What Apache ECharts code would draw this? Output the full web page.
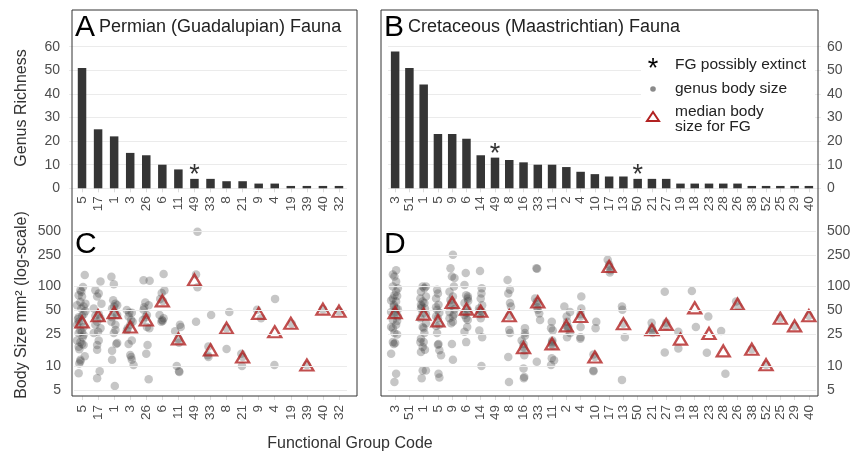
<!DOCTYPE html>
<html><head><meta charset="utf-8">
<script src="https://cdn.jsdelivr.net/npm/echarts@6/dist/echarts.min.js"></script>
<style>html,body{margin:0;padding:0;background:#fff}#c{width:857px;height:454px}</style>
</head><body><div id="c"></div>
<script>
// ---------- DATA ----------
const catsA = ['5','17','1','3','26','6','11','49','33','8','21','9','4','19','39','40','32'];
const richA = [51,25,22,15,14,10,8,4,4,3,3,2,2,1,1,1,1];
const extinctA = ['49'];
const catsB = ['3','51','1','5','9','6','14','49','8','16','33','11','2','4','10','17','13','50','21','27','19','18','23','28','26','38','52','25','29','40'];
const richB = [58,51,44,23,23,21,14,13,12,11,10,10,9,7,6,5,5,4,4,4,2,2,2,2,2,1,1,1,1,1];
const extinctB = ['49','50'];
const sizeTicks = [5,10,25,50,100,250,500];
const medianC = [36,43,47,31,38,66,22,121,16,30,13,46,27,34.5,10.3,52,49];
const medianD = [47,null,45,37,63,52,49,null,43,17,64,19,32,42,13,179,34,null,28.6,33.4,21.8,54,25.7,15.5,60,16.3,10.4,40,32,43];
// [group code, horizontal jitter (category units), body size mm^2]
const pointsC = [
['5',0.17,140],['5',0.06,99],['5',-0.10,90],['5',-0.21,78],['5',0,75],['5',0.21,61],['5',-0.31,58],['5',-0.04,53],['5',0.10,45],['5',-0.21,41],['5',0,36],['5',-0.31,33],['5',0.10,31],['5',-0.10,28],['5',-0.21,26],['5',0.10,24.5],['5',-0.31,21],['5',0,19],['5',-0.21,17.5],['5',0.17,13.3],['5',-0.10,12],['5',-0.17,10.8],['5',-0.21,8.1],['5',-0.04,86],['5',0.21,49],['5',-0.25,39],['5',0.04,23],['5',-0.17,16.3],['5',-0.1,64],['5',0.1,56],['5',-0.2,36],['5',0,27],['5',-0.1,20],['5',0.1,18.4],['5',-0.1,11.5],['5',0,43],
['17',0.15,116],['17',-0.17,90],['17',0.04,82],['17',-0.06,75],['17',0.21,61],['17',-0.27,53],['17',0.04,45],['17',-0.06,36],['17',-0.17,33],['17',0.15,30],['17',-0.27,26],['17',0.04,21],['17',-0.06,18.4],['17',-0.06,16],['17',0.1,8.6],['17',-0.06,7],['17',-0.17,43],['17',0.15,40],['17',0,27],
['1',-0.17,133],['1',-0.02,107],['1',-0.06,67.5],['1',0.08,61],['1',-0.13,53],['1',0.04,47],['1',0.19,44],['1',-0.17,36],['1',0.08,28.4],['1',-0.02,26],['1',0.19,19.5],['1',0.13,19],['1',-0.13,15.6],['1',-0.13,12],['1',0.04,5.6],['1',0,56],['1',0.08,33],['1',-0.13,41],['1',0.19,58],
['3',-0.21,50.6],['3',0.1,47],['3',-0.1,42],['3',0.15,36],['3',0,33],['3',-0.21,28],['3',0.1,21],['3',-0.1,19],['3',0,13.8],['3',0.06,13],['3',0.1,12],['3',0.21,10.3],['3',-0.06,47],['3',0.06,38],['3',-0.15,30],
['26',-0.17,120],['26',0.21,118],['26',-0.06,63],['26',0.15,58],['26',-0.17,51],['26',0.04,44],['26',-0.21,38],['26',0.04,31],['26',0.19,30],['26',0.08,18.4],['26',0,14.3],['26',0.15,6.8],['26',-0.13,55],['26',-0.04,41],
['6',0.08,144],['6',0.13,89],['6',-0.04,83],['6',-0.13,70],['6',0.04,66],['6',-0.17,44],['6',-0.02,38],['6',0.02,37],['6',-0.06,36],['6',0.08,40],
['11',0.1,33],['11',0.15,31],['11',-0.2,27.5],['11',0,22],['11',0.04,19.6],['11',-0.1,10],['11',0.04,8.6],['11',0.06,8.4],
['49',0.19,490],['49',0.1,142],['49',0.19,98],['49',0.1,36],
['33',0.04,44],['33',-0.13,17.6],['33',-0.17,13.7],['33',-0.13,13],
['8',0.17,48],['8',0,30],['8',0,16.4],
['21',-0.08,14.3],['21',0,13],['21',-0.04,10],
['9',-0.1,51],['9',0.15,40],
['4',0.02,70],['4',-0.02,10.3],
['19',0.06,34],['39',0,10.3],['40',0,52],['32',0,49]
];
const pointsD = [
['3',0.07,160],['3',-0.05,134],['3',0.07,116],['3',-0.16,100],['3',0.07,86],['3',-0.05,78],['3',-0.16,71],['3',0.07,65],['3',-0.09,59],['3',0.07,53],['3',-0.28,48],['3',-0.05,44],['3',-0.16,38],['3',0.07,33],['3',-0.16,30],['3',-0.05,26],['3',-0.16,20],['3',-0.09,19],['3',-0.28,14.3],['3',0.07,8],['3',-0.05,6.3],['3',0.19,95],['3',-0.28,67],['3',0.19,52],['3',0,48],['3',0.14,37],['3',-0.28,31],['3',0.14,25],['3',0,19.5],['3',-0.16,142],['3',0.14,76],['3',-0.09,56],['3',0.19,42],
['1',-0.07,100],['1',0.05,95],['1',-0.19,86],['1',0.16,75],['1',-0.07,65],['1',-0.19,59],['1',0.09,53],['1',-0.07,46],['1',-0.23,40],['1',0.16,34.5],['1',-0.07,31],['1',0.05,26],['1',-0.19,22],['1',0,20],['1',-0.07,17.4],['1',-0.19,15],['1',-0.07,8.8],['1',-0.14,7],['1',0.16,100],['1',-0.23,71],['1',0.05,62],['1',-0.14,56],['1',0.16,45],['1',0,30],['1',-0.23,20],['1',0.09,16],['1',0.16,8.8],['1',-0.19,53],
['5',-0.06,91],['5',0,82],['5',-0.13,71],['5',0.04,59],['5',-0.06,51],['5',-0.13,42],['5',0.1,33],['5',-0.06,26],['5',0.04,19],['5',0,18.5],['5',0.1,15.8],['5',0.22,13.7],['5',0.04,8],['5',0.1,7.2],['5',-0.13,55],['5',0.1,47],['5',0,40],['5',-0.13,32],
['9',0.05,251],['9',-0.12,170],['9',-0.02,134],['9',0.16,128],['9',-0.19,86],['9',0.05,75],['9',-0.07,62],['9',-0.19,48],['9',0.05,42],['9',-0.07,34.5],['9',-0.02,19],['9',0.05,12],['9',0.12,100],['9',-0.02,58],['9',0.16,52],['9',-0.12,68],['9',0.12,45],['9',-0.19,40],['9',0.05,36],
['6',-0.14,105],['6',-0.02,78],['6',0.09,71],['6',-0.14,62],['6',0.05,53],['6',-0.14,44],['6',-0.02,40],['6',-0.14,27],['6',-0.02,20],['6',-0.05,148],['6',0.1,75],['6',0.12,66],['6',0.1,50],['6',0,47],['6',0.09,38],['6',0.05,31],
['14',-0.05,157],['14',0.07,95],['14',0.05,82],['14',0,71],['14',-0.12,53],['14',0.1,48],['14',-0.05,45],['14',0,40],['14',-0.1,28],['14',0.1,23],['14',0.05,10],['14',0.1,58],['14',-0.07,50],
['8',-0.12,121],['8',-0.07,82],['8',0.05,91],['8',0.05,62],['8',0.12,56],['8',0,28.4],['8',0.05,26],['8',-0.07,13],['8',-0.02,6.3],['8',0,43],
['16',0.1,30],['16',0.1,26],['16',-0.13,21],['16',0,19],['16',0,17.4],['16',0.05,15.8],['16',0.05,13.7],['16',0,9.3],['16',0.05,7.3],['16',0.02,7],['16',0.1,24],
['33',-0.1,170],['33',-0.05,168],['33',-0.19,71],['33',-0.07,65],['33',0,60],['33',0,51],['33',0.1,46],['33',0.16,38],['33',-0.07,11.3],['33',-0.05,55],
['11',-0.02,36],['11',-0.07,30],['11',0.02,21],['11',0,20],['11',-0.02,19],['11',0.05,18],['11',-0.02,12.5],['11',0.14,11.8],['11',-0.07,10.3],['11',0.05,28],
['2',-0.14,56],['2',0.26,48],['2',0.02,42],['2',0.05,36],['2',0,32],['2',0.14,31],['2',0.1,30],['2',0.26,26],['2',0.05,23],
['4',0.05,75],['4',0.05,53],['4',0,45],['4',0,42],['4',0,31],['4',0,23],['4',-0.02,22],
['10',0.1,36],['10',0.05,30],['10',-0.1,14],['10',0,13],['10',-0.1,8.8],['10',-0.1,8.6],
['17',-0.1,217],['17',0,190],['17',0,179],['17',0.1,160],['17',0.05,150],
['13',-0.1,56],['13',-0.07,51],['13',0,34],['13',0.1,23],['13',-0.1,6.7],
['21',-0.02,35],['21',0,30],['21',0,28],['21',0.05,26],
['27',-0.1,86],['27',0,35],['27',0,32],['27',-0.1,14.8],
['19',-0.15,27],['19',-0.15,16.6],['18',-0.2,88],['18',0.08,31],['23',-0.05,42],['23',-0.15,14.7],
['28',-0.15,27.7],['28',0.15,8],['26',-0.1,65],['26',0.05,56],
['38',0,16.3],['52',0,10.4],['25',0,40],['29',0,32],['40',0,43]
];

// ---------- CHART ----------
const FONT = "'Liberation Sans', Arial, sans-serif";
const TICK = '#4d4d4d';
const GRID = '#ebebeb';
const chart = echarts.init(document.getElementById('c'), null, {renderer: 'canvas'});

function catX(gridIndex, cats, margin) {
  return {
    type: 'category', gridIndex, data: cats, boundaryGap: true,
    axisLine: {show: false},
    axisTick: {show: true, alignWithLabel: true, length: 4, lineStyle: {color: '#dcdcdc'}},
    axisLabel: {rotate: 90, interval: 0, margin: margin, fontSize: 13.5, fontFamily: FONT, color: TICK},
    splitLine: {show: false}
  };
}
function valX(gridIndex, n) {
  return {type: 'value', gridIndex, min: -0.5, max: n - 0.5, show: false};
}
function barY(gridIndex, pos) {
  return {
    type: 'value', gridIndex, min: 0, max: 60, interval: 10, position: pos,
    axisLine: {show: false},
    axisTick: {show: true, length: 5, lineStyle: {color: GRID}},
    axisLabel: {margin: pos === 'right' ? 11 : 14, fontSize: 14, fontFamily: FONT, color: TICK},
    splitLine: {show: true, lineStyle: {color: GRID, width: 1.2}}
  };
}
function logY(gridIndex) {
  return {type: 'log', logBase: 10, gridIndex, min: 4.2, max: 595, show: false};
}
function starSeries(xi, yi, cats, rich, ext) {
  return {
    type: 'scatter', xAxisIndex: xi, yAxisIndex: yi, silent: true, z: 4,
    data: ext.map(c => [c, rich[cats.indexOf(c)]]),
    symbolSize: 1, itemStyle: {color: 'rgba(0,0,0,0)'},
    label: {show: true, formatter: '*', position: 'inside', offset: [0, -3],
            fontSize: 27, fontFamily: FONT, color: '#000'}
  };
}
function gridLines(xi, yi, side) {
  return {
    type: 'line', xAxisIndex: xi, yAxisIndex: yi, data: [], silent: true, z: 1,
    markLine: {
      silent: true, symbol: ['none', 'none'], animation: false,
      lineStyle: {color: GRID, width: 1.2, type: 'solid'},
      label: {show: true, position: side, distance: side === 'start' ? 13 : 11,
              formatter: '{c}', fontSize: 14, fontFamily: FONT, color: TICK},
      emphasis: {disabled: true},
      data: sizeTicks.map(v => ({yAxis: v}))
    }
  };
}
function pointSeries(xi, yi, cats, pts) {
  return {
    type: 'scatter', xAxisIndex: xi, yAxisIndex: yi, silent: true, z: 2,
    data: pts.map(p => [cats.indexOf(p[0]) + p[1], p[2]]),
    symbolSize: 8.5, itemStyle: {color: 'rgba(60,60,60,0.36)'}
  };
}
function medianSeries(xi, yi, cats, med) {
  const d = [];
  cats.forEach((c, i) => { if (med[i] != null) d.push([i, med[i]]); });
  return {
    type: 'scatter', xAxisIndex: xi, yAxisIndex: yi, silent: true, z: 3,
    data: d, symbol: 'triangle', symbolSize: [13, 11],
    itemStyle: {color: 'rgba(0,0,0,0)', borderColor: '#b22222', borderWidth: 2.3}
  };
}
function txt(x, y, text, size, opts) {
  return Object.assign({
    type: 'text', x, y, z: 20, silent: true,
    style: Object.assign({text, fontSize: size, fontFamily: FONT, fill: '#222',
                          align: 'left', verticalAlign: 'middle'}, (opts && opts.style) || {})
  }, opts && opts.rotation ? {rotation: opts.rotation} : {});
}

const option = {
  animation: false,
  backgroundColor: '#fff',
  grid: [
    {left: 74, width: 273, top: 46.7, height: 141.6},
    {left: 388, width: 428, top: 46.7, height: 141.6},
    {left: 74, width: 273, top: 225, height: 171},
    {left: 388, width: 428, top: 225, height: 171}
  ],
  xAxis: [
    catX(0, catsA, 8), catX(1, catsB, 8),
    catX(2, catsA, 9), valX(2, catsA.length),
    catX(3, catsB, 9), valX(3, catsB.length)
  ],
  yAxis: [barY(0, 'left'), barY(1, 'right'), logY(2), logY(3)],
  series: [
    {type: 'bar', xAxisIndex: 0, yAxisIndex: 0, data: richA, barWidth: 8.5, silent: true, itemStyle: {color: '#353535'}},
    starSeries(0, 0, catsA, richA, extinctA),
    {type: 'bar', xAxisIndex: 1, yAxisIndex: 1, data: richB, barWidth: 8.5, silent: true, itemStyle: {color: '#353535'}},
    starSeries(1, 1, catsB, richB, extinctB),
    gridLines(3, 2, 'start'),
    pointSeries(3, 2, catsA, pointsC),
    medianSeries(3, 2, catsA, medianC),
    gridLines(5, 3, 'end'),
    pointSeries(5, 3, catsB, pointsD),
    medianSeries(5, 3, catsB, medianD)
  ],
  graphic: [
    {type: 'rect', z: 30, silent: true, shape: {x: 72, y: 10, width: 285, height: 386}, style: {fill: 'none', stroke: '#333', lineWidth: 1}},
    {type: 'rect', z: 30, silent: true, shape: {x: 381, y: 10, width: 437, height: 386}, style: {fill: 'none', stroke: '#333', lineWidth: 1}},
    txt(75, 28, 'A', 30, {style: {fill: '#000'}}),
    txt(99, 27, 'Permian (Guadalupian) Fauna', 18),
    txt(384, 28, 'B', 30, {style: {fill: '#000'}}),
    txt(408, 27, 'Cretaceous (Maastrichtian) Fauna', 18),
    txt(75, 245, 'C', 30, {style: {fill: '#000'}}),
    txt(384, 245, 'D', 30, {style: {fill: '#000'}}),
    txt(22, 108, 'Genus Richness', 16, {rotation: Math.PI / 2, style: {align: 'center', fill: '#333'}}),
    txt(22, 305, 'Body Size mm² (log-scale)', 16, {rotation: Math.PI / 2, style: {align: 'center', fill: '#333'}}),
    txt(350, 444, 'Functional Group Code', 16, {style: {align: 'center', fill: '#333'}}),
    // legend
    {type: 'rect', z: 10, silent: true, shape: {x: 641, y: 52, width: 174, height: 86}, style: {fill: '#fff'}},
    txt(653, 70, '*', 27, {style: {align: 'center', fill: '#000'}}),
    txt(675, 65, 'FG possibly extinct', 15.5),
    {type: 'circle', z: 20, silent: true, shape: {cx: 653, cy: 89, r: 2.8}, style: {fill: '#8a8a8a'}},
    txt(675, 89, 'genus body size', 15.5),
    {type: 'polygon', z: 20, silent: true, shape: {points: [[647, 121], [659, 121], [653, 112]]}, style: {fill: '#fff', stroke: '#b22222', lineWidth: 2}},
    txt(675, 119, 'median body\nsize for FG', 15.5, {style: {lineHeight: 15.5}})
  ]
};
chart.setOption(option);
</script>
</body></html>
